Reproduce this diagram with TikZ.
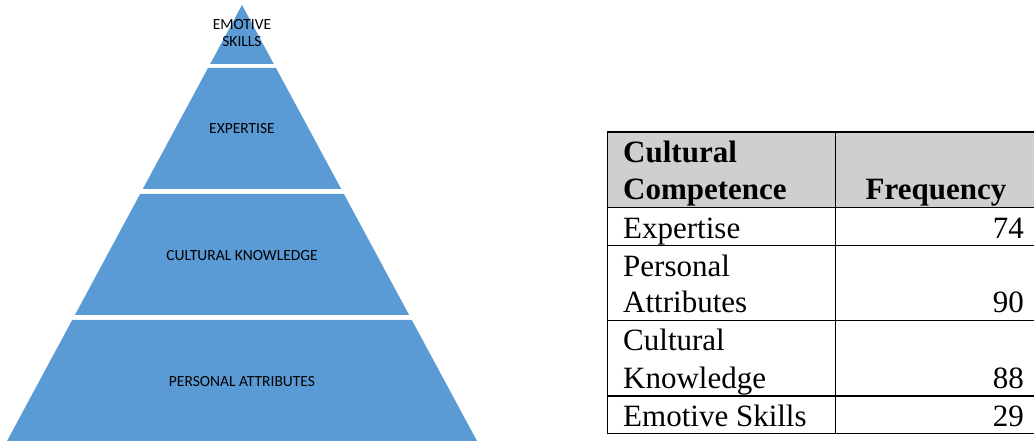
\documentclass[tikz,border=0pt]{standalone}
\usepackage{fontspec}
\setmainfont{Liberation Serif}
\newfontfamily\pyrfont{Carlito}
\definecolor{pyrblue}{HTML}{5B9BD5}
\definecolor{headgray}{HTML}{D0CECE}
\begin{document}
\begin{tikzpicture}[x=1pt,y=-1pt,
  band/.style={fill=pyrblue,draw=none},
  pyrlabel/.style={font=\pyrfont\fontsize{15.5}{17.5}\selectfont,text=black,inner sep=0pt,align=center},
  cell/.style={font=\fontsize{31}{36}\selectfont,inner sep=0pt},
  headcell/.style={font=\bfseries\fontsize{31}{36}\selectfont,inner sep=0pt},
  rule/.style={line width=1.5pt,black}]
\useasboundingbox (0,0) rectangle (1034,443);
% pyramid
\fill[band] (242,5) -- (273.8,64) -- (210.2,64) -- cycle;
\fill[band] (208,68) -- (276,68) -- (341.2,189) -- (142.8,189) -- cycle;
\fill[band] (140.1,194) -- (343.9,194) -- (409.1,315) -- (74.9,315) -- cycle;
\fill[band] (72.2,320) -- (411.8,320) -- (477,441) -- (7,441) -- cycle;
\node[pyrlabel] (emo) at (242,33) {EMOTIVE\\SKILLS};
\node[pyrlabel,anchor=base] (exp) at (242,134) {EXPERTISE};
\node[pyrlabel,anchor=base] (ck) at (242,260.7) {CULTURAL KNOWLEDGE};
\node[pyrlabel,anchor=base] (pa) at (242,386.7) {PERSONAL ATTRIBUTES};
% table
\fill[headgray] (607.5,132) rectangle (1034,207.5);
\draw[rule] (1034,132) -- (607.5,132) -- (607.5,433.7) -- (1034,433.7);
\draw[rule] (835.7,132) -- (835.7,433.7);
\draw[rule] (607.5,207.5) -- (1034,207.5);
\draw[rule] (607.5,245.7) -- (1034,245.7);
\draw[rule] (607.5,320.7) -- (1034,320.7);
\draw[rule] (607.5,396) -- (1034,396);
\node[headcell,anchor=base west] (h1a) at (623,162.7) {Cultural};
\node[headcell,anchor=base west] (h1b) at (623,200) {Competence};
\node[headcell,anchor=base] (h2) at (936,200) {Frequency};
\node[cell,anchor=base west] (r1) at (623,239) {Expertise};
\node[cell,anchor=base east] (v1) at (1024,239) {74};
\node[cell,anchor=base west] (r2a) at (623,276.7) {Personal};
\node[cell,anchor=base west] (r2b) at (623,312.7) {Attributes};
\node[cell,anchor=base east] (v2) at (1024,312.7) {90};
\node[cell,anchor=base west] (r3a) at (623,351) {Cultural};
\node[cell,anchor=base west] (r3b) at (623,388.3) {Knowledge};
\node[cell,anchor=base east] (v3) at (1024,388.3) {88};
\node[cell,anchor=base west] (r4) at (623,426.7) {Emotive Skills};
\node[cell,anchor=base east] (v4) at (1024,426.7) {29};
\end{tikzpicture}
\end{document}
